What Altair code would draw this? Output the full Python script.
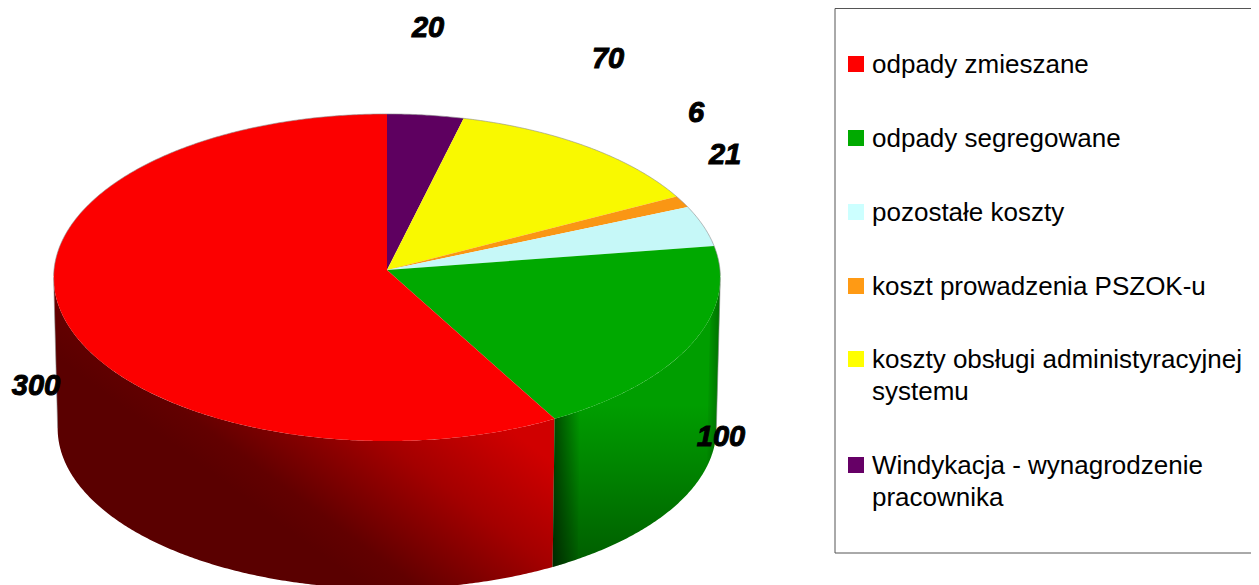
import math
import altair as alt
import pandas as pd

# ---- chart values (clockwise from twelve o'clock) ----
names = ["Windykacja - wynagrodzenie\npracownika", "koszty obsługi administyracyjnej\nsystemu",
         "koszt prowadzenia PSZOK-u", "pozostałe koszty", "odpady segregowane", "odpady zmieszane"]
values = [20, 70, 6, 21, 100, 300]
pie_colors = ["#5E0060", "#F9F900", "#FA9614", "#C6F8F8", "#00A900", "#FC0000"]
key_colors = ["#660066", "#FFFF00", "#FF9A14", "#CCFFFF", "#00AA00", "#FF0000"]

legend_order = [5, 4, 3, 2, 1, 0]
legend_y = [65, 139, 213, 287, 360, 466]
label_xy = [(428, 28), (608, 59), (696, 113), (725, 155), (721, 437), (36, 386)]

# ---- perspective model of the disc ----
K = 0.0459
CX = 387
TOP = dict(rx=333.0, ry=163.2, cy=270.0)
BOT = dict(rx=329.0, ry=160.0, cy=421.0)


def project(deg, g):
    a = math.radians(deg)
    u, v = math.sin(a), -math.cos(a)
    d = 1 - K * v
    return CX + g["rx"] * u / d, g["cy"] + g["ry"] * v / d


def arc(a0, a1, g):
    n = max(2, int(abs(a1 - a0) * 2))
    return [project(a0 + (a1 - a0) * i / n, g) for i in range(n + 1)]


total = sum(values)
edges = [0.0]
for val in values:
    edges.append(edges[-1] + val / total * 360)

W_RIGHT, W_LEFT = 92.6, 267.4


def pts_df(pts):
    return pd.DataFrame([{"i": i, "x": x, "y": y} for i, (x, y) in enumerate(pts)])


def wall(a0, a1):
    return pts_df(arc(a0, a1, TOP) + arc(a1, a0, BOT))


X = alt.X("x:Q", scale=alt.Scale(domain=[8, 1251], nice=False, zero=False), axis=None)
Y = alt.Y("y:Q", scale=alt.Scale(domain=[8, 585], reverse=True, nice=False, zero=False), axis=None)
enc = dict(x=X, y=Y, order=alt.Order("i:Q"))


def stops(*pairs):
    return [alt.GradientStop(offset=o, color=c) for o, c in pairs]


red_grad = alt.Gradient(gradient="linear", x1=0.50, y1=0.85, x2=0.92, y2=0.50,
                        stops=stops((0, "#5A0000"), (0.15, "#620000"), (0.6, "#A40000"), (1, "#D00000")))
green_grad = alt.Gradient(gradient="linear", x1=0, y1=0.44, x2=0, y2=1,
                          stops=stops((0, "#009E00"), (1, "#005C00")))
band_l = alt.Gradient(gradient="linear", x1=0, y1=0, x2=1, y2=0,
                      stops=stops((0, "rgba(0,0,0,0.55)"), (1, "rgba(0,0,0,0)")))
band_r = alt.Gradient(gradient="linear", x1=0, y1=0, x2=1, y2=0,
                      stops=stops((0, "rgba(0,0,0,0)"), (1, "rgba(0,0,0,0.3)")))


def filled(df, fill):
    return alt.Chart(df).mark_line(fill=fill, stroke=None, clip=True).encode(**enc)


walls = [
    filled(wall(edges[5], W_LEFT), red_grad),
    filled(wall(W_RIGHT, edges[5]), green_grad),
    filled(wall(edges[5] - 5, edges[5]), band_l),
    filled(wall(W_RIGHT, W_RIGHT + 14), band_r),
]

top_layers = [
    filled(pts_df([(CX, TOP["cy"])] + arc(edges[k], edges[k + 1], TOP)), pie_colors[k])
    for k in range(len(values))
]


def hairline(pts):
    return alt.Chart(pts_df(pts)).mark_line(color="#8c8c8c", strokeWidth=0.6, clip=True).encode(**enc)


rim_layers = [
    hairline(arc(-92, 92, TOP)),
    hairline([project(W_LEFT, TOP), project(W_LEFT, BOT)]),
    hairline([project(W_RIGHT, TOP), project(W_RIGHT, BOT)]),
]

labels_df = pd.DataFrame({"x": [p[0] for p in label_xy], "y": [p[1] for p in label_xy],
                          "t": [str(v) for v in values]})
labels = alt.Chart(labels_df).mark_text(font="Liberation Sans", fontSize=29, fontWeight="bold",
                                        fontStyle="italic", color="black", stroke="black", strokeWidth=1,
                                        align="center", baseline="middle").encode(x=X, y=Y, text="t:N")

# legend
box_df = pd.DataFrame({"x": [835], "x2": [1270], "y": [8.5], "y2": [553]})
box = alt.Chart(box_df).mark_rect(fill="white", stroke="#555555", strokeWidth=1, clip=True).encode(
    x=X, x2="x2:Q", y=Y, y2="y2:Q")

key_rows, text_rows = [], []
for pos, idx in enumerate(legend_order):
    key_rows.append({"x": 856, "y": legend_y[pos] - 1, "c": key_colors[idx]})
    for j, line in enumerate(names[idx].split("\n")):
        text_rows.append({"x": 872, "y": legend_y[pos] + j * 32, "t": line})
keys = alt.Chart(pd.DataFrame(key_rows)).mark_square(size=256, opacity=1).encode(
    x=X, y=Y, fill=alt.Fill("c:N", scale=None), stroke=alt.value(None))
texts = alt.Chart(pd.DataFrame(text_rows)).mark_text(
    font="Liberation Sans", fontSize=26, color="black", align="left", baseline="middle").encode(
    x=X, y=Y, text="t:N")

chart = alt.layer(
    *walls, *top_layers, *rim_layers, box, keys, texts, labels
).properties(width=1243, height=577, padding=0, background="white").configure_view(stroke=None)

chart.save("out.html", embed_options={"renderer": "svg", "actions": False})
